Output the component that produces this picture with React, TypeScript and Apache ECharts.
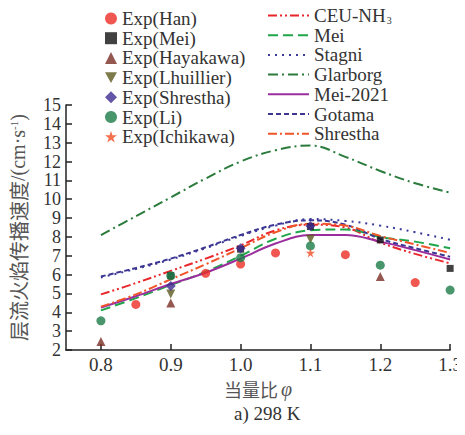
import React, { useEffect, useRef } from "react";
import * as echarts from "echarts";

const phiGrid = [0.8, 0.85, 0.9, 0.95, 1.0, 1.05, 1.1, 1.15, 1.2, 1.25, 1.3];

// model curves (values at phiGrid)
const ceuNH3 = [4.95, 5.55, 6.2, 6.85, 7.55, 8.35, 8.65, 8.5, 7.7, 7.1, 6.6];
const meiModel = [4.1, 4.75, 5.45, 6.15, 7.0, 7.9, 8.35, 8.4, 8.0, 7.75, 7.4];
const stagni = [5.85, 6.3, 6.8, 7.4, 8.05, 8.6, 8.95, 8.85, 8.6, 8.25, 7.85];
const glarborg = [8.1, 9.1, 10.1, 11.1, 12.0, 12.6, 12.85, 12.25, 11.5, 10.85, 10.35];
const mei2021 = [4.25, 4.85, 5.5, 6.1, 6.85, 7.65, 8.1, 8.1, 7.75, 7.3, 6.8];
const gotama = [5.9, 6.35, 6.85, 7.45, 8.1, 8.65, 8.88, 8.65, 7.9, 7.4, 6.95];
const shresthaModel = [4.3, 4.95, 5.75, 6.55, 7.4, 8.25, 8.7, 8.6, 8.05, 7.6, 7.15];

// experiments [phi, SL]
const expHan = [[0.85, 4.42], [0.95, 6.07], [1.0, 6.56], [1.05, 7.15], [1.15, 7.06], [1.25, 5.58]];
const expMei = [[0.9, 5.95], [1.0, 7.35], [1.1, 8.55], [1.2, 7.84], [1.3, 6.33]];
const expHayakawa = [[0.8, 2.45], [0.9, 4.5], [1.2, 5.9]];
const expLhuillier = [[0.9, 4.97], [1.1, 7.87]];
const expShrestha = [[0.9, 5.4], [1.0, 7.4], [1.1, 8.58]];
const expLi = [[0.8, 3.55], [0.9, 5.94], [1.0, 6.9], [1.1, 7.52], [1.2, 6.5], [1.3, 5.18]];
const expIchikawa = [[1.1, 7.15]];

const xTicks = [0.8, 0.9, 1.0, 1.1, 1.2, 1.3];

const SERIF = "Liberation Serif";
const CJK = "Noto Sans CJK SC";

export default function App() {
  const ref = useRef<HTMLDivElement>(null);
  useEffect(() => {
    const chart = echarts.init(ref.current!, null, { renderer: "svg" });
    const pair = (arr: number[]) => phiGrid.map((p, i) => [p, arr[i]]);
    const lineSeries = (name: string, data: number[], color: string, type: any, width = 2) => ({
      name,
      type: "line",
      data: pair(data),
      smooth: 0.4,
      symbol: "none",
      showSymbol: false,
      lineStyle: { color, width, type },
      itemStyle: { color },
      z: 2,
    });
    const scatter = (name: string, data: number[][], color: string, symbol: string, size: number) => ({
      name,
      type: "scatter",
      data,
      symbol,
      symbolSize: size,
      itemStyle: { color },
      z: 5,
    });
    const legendText = {
      fontFamily: SERIF,
      fontSize: 19,
      color: "#333",
      lineHeight: 19,
      rich: {
        n: { fontFamily: SERIF, fontSize: 19, color: "#333" },
        s: { fontFamily: SERIF, fontSize: 10, color: "#333", padding: [9, 0, 0, 1] },
      },
    };
    chart.setOption({
      animation: false,
      grid: { left: 65, right: 14, top: 105, bottom: 85 },
      legend: [
        {
          data: ["Exp(Han)", "Exp(Mei)", "Exp(Hayakawa)", "Exp(Lhuillier)", "Exp(Shrestha)", "Exp(Li)", "Exp(Ichikawa)"],
          orient: "vertical",
          left: 100,
          top: 4,
          itemWidth: 12,
          itemHeight: 12,
          itemGap: 0.7,
          textStyle: legendText,
        },
        {
          data: ["CEU-NH3", "Mei", "Stagni", "Glarborg", "Mei-2021", "Gotama", "Shrestha"],
          orient: "vertical",
          left: 262,
          top: 1,
          itemWidth: 41,
          itemHeight: 12,
          itemGap: 0.7,
          itemStyle: { opacity: 0 },
          textStyle: legendText,
          formatter: (name: string) => (name === "CEU-NH3" ? "{n|CEU-NH}{s|3}" : "{n|" + name + "}"),
        },
      ],
      xAxis: {
        type: "value",
        min: 0.75,
        max: 1.3,
        axisLine: { show: true, lineStyle: { color: "#222", width: 1.5 } },
        axisTick: { show: true, inside: true, length: 6, customValues: xTicks, lineStyle: { color: "#222", width: 1.5 } },
        axisLabel: {
          customValues: xTicks,
          formatter: (v: number) => v.toFixed(1),
          fontFamily: SERIF,
          fontSize: 19,
          color: "#333",
          margin: 5,
        },
        splitLine: { show: false },
        name: "{a|当量比}{b|φ}",
        nameLocation: "middle",
        nameGap: 28,
        nameTextStyle: {
          rich: {
            a: { fontFamily: CJK, fontSize: 18, color: "#555" },
            b: { fontFamily: SERIF, fontSize: 20, color: "#555", fontStyle: "italic", padding: [0, 0, 0, 3] },
          },
        },
      },
      yAxis: {
        type: "value",
        min: 2,
        max: 15,
        interval: 1,
        axisLine: { show: true, lineStyle: { color: "#222", width: 1.5 } },
        axisTick: { show: true, inside: true, length: 6, lineStyle: { color: "#222", width: 1.5 } },
        axisLabel: { fontFamily: SERIF, fontSize: 18, color: "#333", margin: 5 },
        splitLine: { show: false },
        name: "{c|层流火焰传播速度}{a|/(cm·s}{b|-1}{a|)}",
        nameLocation: "middle",
        nameRotate: 90,
        nameGap: 38,
        nameTextStyle: {
          rich: {
            c: { fontFamily: CJK, fontSize: 20, color: "#555" },
            a: { fontFamily: SERIF, fontSize: 20, color: "#555" },
            b: { fontFamily: SERIF, fontSize: 11, color: "#555", padding: [0, 0, 9, 0] },
          },
        },
      },
      title: {
        text: "a) 298 K",
        left: 229,
        top: 399,
        textStyle: { fontFamily: SERIF, fontSize: 19, fontWeight: "normal", color: "#333" },
      },
      series: [
        lineSeries("CEU-NH3", ceuNH3, "#e8262b", [9, 3, 2, 3, 2, 3]),
        lineSeries("Mei", meiModel, "#1fa64a", [10, 5]),
        lineSeries("Stagni", stagni, "#3a3a98", [2, 5]),
        lineSeries("Glarborg", glarborg, "#2a7b3c", [10, 4, 2, 4]),
        lineSeries("Mei-2021", mei2021, "#9a2e9c", "solid"),
        lineSeries("Gotama", gotama, "#3c3592", [5, 3]),
        lineSeries("Shrestha", shresthaModel, "#f0552a", [9, 3, 2, 3]),
        scatter("Exp(Han)", expHan, "#ee2d25", "circle", 9),
        scatter("Exp(Mei)", expMei, "#111111", "rect", 7),
        scatter("Exp(Hayakawa)", expHayakawa, "#7a2e26", "triangle", 9),
        scatter("Exp(Lhuillier)", expLhuillier, "#5c5a1f", "path://M0,0 L10,0 L5,9 Z", 9),
        scatter("Exp(Shrestha)", expShrestha, "#3d2b90", "diamond", 10),
        scatter("Exp(Li)", expLi, "#1c7c48", "circle", 9),
        scatter("Exp(Ichikawa)", expIchikawa, "#f04e23", "path://M5,0 L6.2,3.6 L10,3.6 L6.9,5.9 L8.1,9.5 L5,7.3 L1.9,9.5 L3.1,5.9 L0,3.6 L3.8,3.6 Z", 9),
      ],
    });
    return () => chart.dispose();
  }, []);
  return <div ref={ref} style={{ width: 465, height: 435, margin: -8, background: "#fff" }} />;
}
